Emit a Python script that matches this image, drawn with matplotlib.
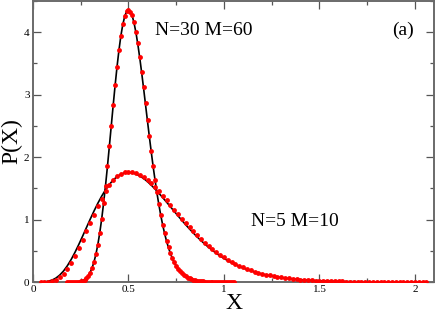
import numpy as np
import matplotlib
matplotlib.use("Agg")
import matplotlib.pyplot as plt
from matplotlib.ticker import MultipleLocator

# ---------------- data ----------------
# N=30, M=60 : bins from 0.18 to 1.05, step 0.01
x30 = np.round(np.arange(0.18, 1.0501, 0.01), 3)
line30 = [0.0000, 0.0001, 0.0003, 0.0008, 0.0017, 0.0036, 0.0071, 0.0133, 0.0236, 0.0402,
          0.0657, 0.1033, 0.1568, 0.2301, 0.3273, 0.4521, 0.6077, 0.796, 1.017, 1.270,
          1.551, 1.855, 2.177, 2.506, 2.832, 3.149, 3.445, 3.710, 3.939, 4.120,
          4.250, 4.332, 4.358, 4.332, 4.259, 4.137, 3.979, 3.785, 3.568, 3.330,
          3.080, 2.821, 2.565, 2.311, 2.065, 1.831, 1.613, 1.409, 1.223, 1.053,
          0.901, 0.766, 0.648, 0.544, 0.454, 0.377, 0.311, 0.256, 0.209, 0.169,
          0.137, 0.110, 0.088, 0.070, 0.056, 0.044, 0.035, 0.027, 0.021, 0.016,
          0.013, 0.010, 0.0075, 0.0057, 0.0044, 0.0033, 0.0025, 0.0019, 0.0014, 0.0011,
          0.0008, 0.0006, 0.0004, 0.0003, 0.0002, 0.0002, 0.0001, 0.0001]
dots30 = [0.0, 0.0, 0.0, 0.001, 0.002, 0.004, 0.007, 0.013, 0.022, 0.038,
          0.062, 0.098, 0.150, 0.222, 0.318, 0.442, 0.598, 0.785, 1.005, 1.26,
          1.545, 1.85, 2.17, 2.50, 2.83, 3.15, 3.45, 3.72, 3.94, 4.13,
          4.26, 4.34, 4.35, 4.33, 4.27, 4.16, 4.01, 3.82, 3.61, 3.37,
          3.12, 2.86, 2.60, 2.345, 2.095, 1.86, 1.64, 1.435, 1.245, 1.075,
          0.92, 0.782, 0.66, 0.555, 0.463, 0.385, 0.318, 0.261, 0.213, 0.173,
          0.14, 0.112, 0.09, 0.072, 0.057, 0.045, 0.035, 0.028, 0.022, 0.017,
          0.013, 0.01, 0.008, 0.006, 0.004, 0.003, 0.003, 0.002, 0.001, 0.001,
          0.001, 0.0, 0.0, 0.0, 0.0, 0.0, 0.0, 0.0]

# N=5, M=10 : bins from 0.04 to 2.06, step 0.02
x5 = np.round(np.arange(0.04, 2.0601, 0.02), 3)
line5 = [0.0006, 0.0036, 0.0123, 0.0307, 0.0625, 0.1105, 0.1764, 0.2603, 0.3609, 0.4759,
         0.6020, 0.7353, 0.8721, 1.0082, 1.1397, 1.2635, 1.3766, 1.4771, 1.5629, 1.6332,
         1.6873, 1.7253, 1.7474, 1.7547, 1.7478, 1.7282, 1.6971, 1.6560, 1.6063, 1.5493,
         1.4867, 1.4197, 1.3495, 1.2772, 1.2038, 1.1303, 1.0574, 0.9858, 0.9160, 0.8485,
         0.7837, 0.7217, 0.6629, 0.6073, 0.5549, 0.5059, 0.4602, 0.4177, 0.3783, 0.3420,
         0.3085, 0.2779, 0.2498, 0.2242, 0.2008, 0.1796, 0.1604, 0.1431, 0.1274, 0.1133,
         0.1006, 0.0892, 0.0790, 0.0699, 0.0618, 0.0545, 0.0481, 0.0424, 0.0373, 0.0328,
         0.0288, 0.0252, 0.0221, 0.0194, 0.0169, 0.0148, 0.0129, 0.0113, 0.0098, 0.0085,
         0.0074, 0.0064, 0.0056, 0.0048, 0.0042, 0.0036, 0.0031, 0.0027, 0.0023, 0.0020,
         0.0017, 0.0015, 0.0013, 0.0011, 0.0009, 0.0008, 0.0007, 0.0006, 0.0005, 0.0004,
         0.0004, 0.0003]
dots5 = [0.0, 0.0, 0.005, 0.02, 0.04, 0.08, 0.135, 0.21, 0.30, 0.41,
         0.54, 0.675, 0.815, 0.95, 1.08, 1.21, 1.33, 1.45, 1.55, 1.63,
         1.69, 1.73, 1.755, 1.765, 1.76, 1.745, 1.72, 1.685, 1.64, 1.585,
         1.525, 1.455, 1.385, 1.31, 1.235, 1.16, 1.09, 1.015, 0.945, 0.875,
         0.81, 0.745, 0.685, 0.63, 0.575, 0.525, 0.48, 0.435, 0.395, 0.36,
         0.325, 0.29, 0.262, 0.235, 0.21, 0.188, 0.168, 0.15, 0.133, 0.118,
         0.105, 0.093, 0.082, 0.073, 0.064, 0.057, 0.05, 0.044, 0.039, 0.034,
         0.03, 0.026, 0.023, 0.02, 0.018, 0.016, 0.014, 0.012, 0.01, 0.009,
         0.008, 0.007, 0.006, 0.005, 0.004, 0.004, 0.003, 0.003, 0.002, 0.002,
         0.002, 0.001, 0.001, 0.001, 0.001, 0.001, 0.001, 0.0, 0.0, 0.0,
         0.0, 0.0]

labels = ["N=30 M=60", "N=5 M=10", "(a)"]

# ---------------- figure ----------------
plt.rcParams['font.family'] = ['Liberation Serif', 'DejaVu Serif']
plt.rcParams['mathtext.fontset'] = 'stix'

fig = plt.figure(figsize=(4.36, 3.14), dpi=100)
ax = fig.add_axes([33/436, 32/314, 401/436, 281/314])

ax.plot(x5, line5, color='black', lw=1.2, zorder=2)
ax.plot(x30, line30, color='black', lw=1.2, zorder=2)
ax.plot(x5, dots5, 'o', color='red', ms=3.5, mew=0, zorder=3)
ax.plot(x30, dots30, 'o', color='red', ms=3.5, mew=0, zorder=3)

ax.set_xlim(0, 2.1)
ax.set_ylim(0, 4.5)
ax.xaxis.set_minor_locator(MultipleLocator(0.25))
ax.yaxis.set_major_locator(MultipleLocator(1))
ax.yaxis.set_minor_locator(MultipleLocator(0.5))
ax.set_xticks([0, 0.5, 1, 1.5, 2])
ax.set_xticklabels(["0", "0.5", "1", "1.5", "2"])

ax.tick_params(which='both', direction='in', top=True, right=True,
               color='#555555', width=0.9, labelsize=8, pad=2.5)
ax.tick_params(which='major', length=5.5)
ax.tick_params(which='minor', length=3)
for s in ax.spines.values():
    s.set_color('#6a6a6a')
    s.set_linewidth(1.4)

ax.set_xlabel("X", fontsize=17, labelpad=-1)
ax.set_ylabel("P(X)", fontsize=17, labelpad=1)

ax.text(0.64, 4.03, labels[0], fontsize=14, va='center', ha='left')
ax.text(1.14, 0.97, labels[1], fontsize=14, va='center', ha='left')
ax.text(1.88, 4.03, labels[2], fontsize=14, va='center', ha='left')

fig.savefig("out.png", dpi=100)
